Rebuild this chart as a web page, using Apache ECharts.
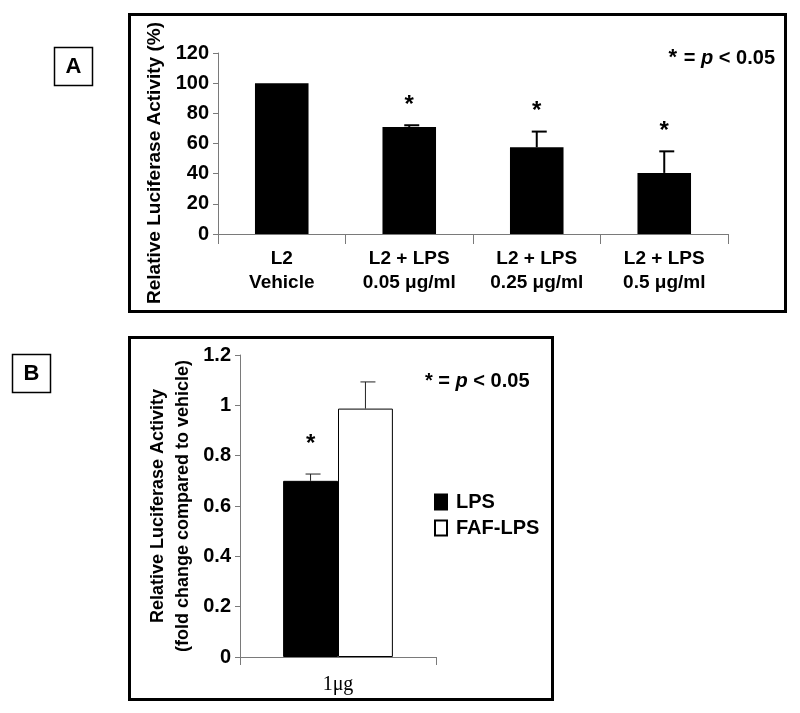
<!DOCTYPE html>
<html>
<head>
<meta charset="utf-8">
<script src="https://cdn.jsdelivr.net/npm/echarts@6/dist/echarts.min.js"></script>
<style>
html,body{margin:0;padding:0;background:#fff;}
#chart{width:800px;height:713px;}
</style>
</head>
<body>
<div id="chart"></div>
<script>
// ---------- Panel A data ----------
var catsA = ['L2\nVehicle', 'L2 + LPS\n0.05 μg/ml', 'L2 + LPS\n0.25 μg/ml', 'L2 + LPS\n0.5 μg/ml'];
var valsA = [100, 71, 57.5, 40.5];
var errA = [0, 1.1, 10.4, 14.3];
var sigA = [false, true, true, true];
var yTicksA = {min: 0, max: 120, interval: 20};
var yNameA = 'Relative Luciferase Activity (%)';

// ---------- Panel B data ----------
var catsB = ['1μg'];
var seriesNamesB = ['LPS', 'FAF-LPS'];
var valsLPS = [0.70];
var valsFAF = [0.987];
var errLPS = [0.027];
var errFAF = [0.106];
var sigLPS = [true];
var sigFAF = [false];
var yTicksB = {min: 0, max: 1.2, interval: 0.2};
var yNameB = 'Relative Luciferase Activity\n(fold change compared to vehicle)';

var FONT = 'Liberation Sans, Arial, sans-serif';
var SERIF = 'Liberation Serif, Times New Roman, serif';

var chart = echarts.init(document.getElementById('chart'), null, {renderer: 'canvas'});

function errSeries(name, xIdx, yIdx, vals, errs, sig, offsetFrac, lineW, lineColor, starGap) {
  var data = vals.map(function (v, i) { return [i, v, errs[i], sig[i] ? 1 : 0]; });
  return {
    type: 'custom',
    name: name,
    xAxisIndex: xIdx,
    yAxisIndex: yIdx,
    silent: true,
    z: 5,
    data: data,
    renderItem: function (params, api) {
      var i = api.value(0), v = api.value(1), e = api.value(2), s = api.value(3);
      var band = api.size([1, 0])[0];
      var base = api.coord([i, v]);
      var x = base[0] + band * offsetFrac;
      var top = api.coord([i, v + e]);
      var children = [];
      if (e > 0) {
        children.push({type: 'line', shape: {x1: x, y1: base[1], x2: x, y2: top[1]},
          style: {stroke: lineColor, lineWidth: lineW}});
        children.push({type: 'line', shape: {x1: x - 5, y1: top[1], x2: x + 10, y2: top[1]},
          style: {stroke: lineColor, lineWidth: lineW}});
      }
      if (s) {
        children.push({type: 'text', x: x, y: top[1] - starGap,
          style: {text: '*', font: 'bold 24px ' + FONT, fill: '#000', align: 'center', verticalAlign: 'middle'}});
      }
      return {type: 'group', children: children};
    }
  };
}

var axisLineGray = {show: true, lineStyle: {color: '#7a7a7a', width: 1}};

var option = {
  backgroundColor: '#fff',
  animation: false,
  textStyle: {fontFamily: FONT},
  grid: [
    {left: 218, right: 72, top: 53, bottom: 479, containLabel: false},
    {left: 240, right: 364, top: 355, bottom: 56, containLabel: false}
  ],
  legend: {
    data: seriesNamesB,
    orient: 'vertical',
    left: 429,
    top: 487,
    itemWidth: 12,
    itemHeight: 15,
    itemGap: 6,
    icon: 'rect',
    textStyle: {fontFamily: FONT, fontWeight: 'bold', fontSize: 20, color: '#000', padding: [0, 0, 0, 4]}
  },
  xAxis: [
    {
      type: 'category', gridIndex: 0, data: catsA,
      axisLine: axisLineGray,
      axisTick: {show: true, length: 10, lineStyle: {color: '#7a7a7a'}},
      axisLabel: {fontFamily: FONT, fontWeight: 'bold', fontSize: 19, color: '#000', lineHeight: 24, margin: 13}
    },
    {
      type: 'category', gridIndex: 1, data: catsB,
      axisLine: axisLineGray,
      axisTick: {show: true, length: 8, lineStyle: {color: '#7a7a7a'}},
      axisLabel: {fontFamily: SERIF, fontSize: 20, color: '#000', margin: 18}
    }
  ],
  yAxis: [
    {
      type: 'value', gridIndex: 0, min: yTicksA.min, max: yTicksA.max, interval: yTicksA.interval,
      axisLine: axisLineGray,
      axisTick: {show: true, length: 5, lineStyle: {color: '#7a7a7a'}},
      splitLine: {show: false},
      axisLabel: {fontFamily: FONT, fontWeight: 'bold', fontSize: 20, color: '#000', margin: 9},
      name: yNameA, nameLocation: 'middle', nameRotate: 90, nameGap: 51,
      nameTextStyle: {fontFamily: FONT, fontWeight: 'bold', fontSize: 19, color: '#000', padding: [0, 39, 0, 0]}
    },
    {
      type: 'value', gridIndex: 1, min: yTicksB.min, max: yTicksB.max, interval: yTicksB.interval,
      axisLine: axisLineGray,
      axisTick: {show: true, length: 5, lineStyle: {color: '#7a7a7a'}},
      splitLine: {show: false},
      axisLabel: {fontFamily: FONT, fontWeight: 'bold', fontSize: 20, color: '#000', margin: 9},
      name: yNameB, nameLocation: 'middle', nameRotate: 90, nameGap: 44,
      nameTextStyle: {fontFamily: FONT, fontWeight: 'bold', fontSize: 18, color: '#000', lineHeight: 25, align: 'center'}
    }
  ],
  series: [
    {
      type: 'bar', name: 'A', xAxisIndex: 0, yAxisIndex: 0, data: valsA,
      barCategoryGap: '58%',
      itemStyle: {color: '#000'}
    },
    errSeries('errA', 0, 0, valsA, errA, sigA, 0, 2, '#000', 20),
    {
      type: 'bar', name: seriesNamesB[0], xAxisIndex: 1, yAxisIndex: 1, data: valsLPS,
      barCategoryGap: '44%', barGap: '0%',
      itemStyle: {color: '#000', borderColor: '#000', borderWidth: 1}
    },
    {
      type: 'bar', name: seriesNamesB[1], xAxisIndex: 1, yAxisIndex: 1, data: valsFAF,
      barCategoryGap: '44%', barGap: '0%',
      itemStyle: {color: '#fff', borderColor: '#000', borderWidth: 1}
    },
    errSeries('errLPS', 1, 1, valsLPS, errLPS, sigLPS, -0.14, 1, '#222', 30),
    errSeries('errFAF', 1, 1, valsFAF, errFAF, sigFAF, 0.14, 1, '#222', 30)
  ],
  graphic: [
    {type: 'rect', shape: {x: 129.5, y: 14.5, width: 656, height: 297}, style: {fill: 'none', stroke: '#000', lineWidth: 3}, silent: true},
    {type: 'rect', shape: {x: 54.5, y: 47.5, width: 38, height: 38}, style: {fill: 'none', stroke: '#000', lineWidth: 1.5}, silent: true},
    {type: 'text', x: 73.5, y: 67, style: {text: 'A', font: 'bold 22px ' + FONT, fill: '#000', align: 'center', verticalAlign: 'middle'}},
    {type: 'text', x: 775, y: 58, style: {
      text: '{s|*}  {n|= }{i|p}{n| < 0.05}', align: 'right', verticalAlign: 'middle',
      rich: {
        s: {font: 'bold 22px ' + FONT, fill: '#000'},
        n: {font: 'bold 20px ' + FONT, fill: '#000'},
        i: {font: 'italic bold 20px ' + FONT, fill: '#000'}
      }}},
    {type: 'rect', shape: {x: 129.5, y: 337.5, width: 423, height: 362}, style: {fill: 'none', stroke: '#000', lineWidth: 3}, silent: true},
    {type: 'rect', shape: {x: 12.5, y: 354.5, width: 38, height: 38}, style: {fill: 'none', stroke: '#000', lineWidth: 1.5}, silent: true},
    {type: 'text', x: 31.5, y: 374, style: {text: 'B', font: 'bold 22px ' + FONT, fill: '#000', align: 'center', verticalAlign: 'middle'}},
    {type: 'text', x: 425, y: 381, style: {
      text: '{s|*}{n| = }{i|p}{n| < 0.05}', align: 'left', verticalAlign: 'middle',
      rich: {
        s: {font: 'bold 20px ' + FONT, fill: '#000'},
        n: {font: 'bold 20px ' + FONT, fill: '#000'},
        i: {font: 'italic bold 20px ' + FONT, fill: '#000'}
      }}}
  ]
};
chart.setOption(option);
</script>
</body>
</html>
